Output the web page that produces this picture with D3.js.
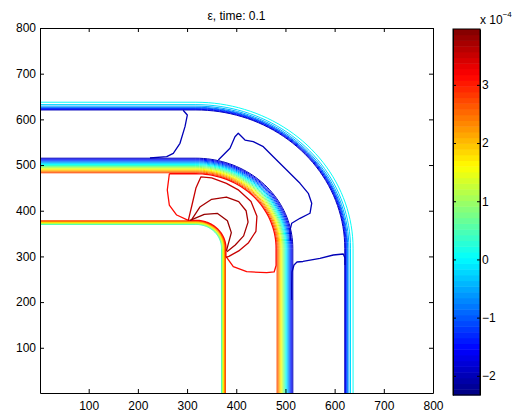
<!DOCTYPE html>
<html>
<head>
<meta charset="utf-8">
<script src="https://cdn.jsdelivr.net/npm/d3@7"></script>
<style>
  body { margin: 0; background: #fff; }
  text { font-family: "Liberation Sans", Arial, Helvetica, sans-serif; fill: #000; }
</style>
</head>
<body>
<svg id="chart" width="518" height="415"></svg>
<script>
// field range shown on the colour bar (units of 1e-4)
const cMin = -2.33, cMax = 3.96;
const xTicks = [100, 200, 300, 400, 500, 600, 700, 800];
const yTicks = [100, 200, 300, 400, 500, 600, 700, 800];
const cbarTicks = [-2, -1, 0, 1, 2, 3];

// the three rounded-L bands share one corner centre (data units)
const cornerCenter = [318, 318];

// each band line: contour level and its distance from the corner centre
const outerLevels = [-2.02, -1.72, -1.42, -1.12, -0.82, -0.52, -0.22, 0.08];
const outerRadii  = [302.6, 304, 305.5, 307, 308.5, 311, 314.3, 319.5];

const middleLevels = [-2.02, -1.72, -1.42, -1.12, -0.82, -0.52, -0.22, 0.08, 0.38,
                      0.68, 0.98, 1.28, 1.58, 1.88, 2.18, 2.48, 2.78];
const middleRadii  = [197, 195, 193, 191, 189, 187, 185, 183, 181,
                      179, 177, 175, 173, 171, 169, 167, 165];

const innerLevels = [0.38, 0.68, 0.98, 1.28, 1.58, 1.88, 2.18, 2.48, 2.78];
const innerRadii  = [52, 53, 54, 55, 56, 57, 58, 59, 60];

// traced free contours between the outer and middle bands (level -2.02)
const blueLevel = -2.02;
const blueTop = [[292, 620], [300.5, 609.5], [295.8, 584], [285.6, 547.6],
                 [272, 525.7], [258.6, 518.3], [224.6, 515.4]];
const blueMid = [[363.5, 511], [387.3, 536.6], [397.4, 562], [404.1, 569.5], [417.8, 554.8],
                 [434.6, 551.1], [455, 540.2], [475.3, 518.3], [502.5, 489.1], [529.6, 460],
                 [546.5, 438.1], [553.4, 416.3], [549.9, 394.4], [529.6, 383.4],
                 [512.7, 372.5], [509.3, 357.8], [510, 335]];
const blueLow = [[512.7, 204.6], [512.7, 237.4], [513.3, 265.9], [517.4, 281.2],
                 [523.5, 287.8], [535.7, 288.9], [570.2, 295.9], [597.3, 303.1],
                 [617.6, 305.3], [621, 296.5], [621, 281.2]];

// red loop round the inner corner (level 3.08), closed along both bands
const redLevel = 3.08, redInnerR = 61, redMiddleR = 163;
const redLeft = [[264, 481], [259.8, 445.4], [263.9, 412.5], [278.9, 390.6], [302.5, 379]];
const redBottom = [[379, 300], [394, 277.5], [421.2, 266.5], [461.9, 264.3], [477, 266], [481, 280]];

// dark red loops fanning out of the inner corner
const loopLevels = [3.5, 3.68, 3.83];
const loopA = [[302.5, 379], [310, 412.5], [318, 449.7], [328, 474], [350, 472], [380, 460],
               [405, 445], [430, 420], [442, 388], [440, 355], [425, 330], [405, 312],
               [385, 300], [379, 298]];
const loopB = [[309, 380], [326, 408], [350, 425], [380, 430], [405, 420], [420, 400],
               [424, 375], [415, 345], [398, 325], [381, 310]];
const loopC = [[306, 379], [335, 392], [362, 394], [382, 378], [390, 352], [380, 312]];

const svg = d3.select("#chart");

const x = d3.scaleLinear().domain([1, 800]).range([40, 433]);
const y = d3.scaleLinear().domain([1, 800]).range([393, 28]);
const cb = d3.scaleLinear().domain([cMin, cMax]).range([395, 29]);

// MATLAB jet, 64 entries
function jet(t) {
  const c = v => Math.max(0, Math.min(1, v));
  return d3.rgb(255 * c(Math.min(4 * t - 1.5, -4 * t + 4.5)),
                255 * c(Math.min(4 * t - 0.5, -4 * t + 3.5)),
                255 * c(Math.min(4 * t + 0.5, -4 * t + 2.5))).formatHex();
}
function levelColor(v) {
  const i = Math.max(0, Math.min(63, Math.floor((v - cMin) / (cMax - cMin) * 64)));
  return jet((i + 0.5) / 64);
}

function arcPoints(r, a0, a1) {
  const [cx, cy] = cornerCenter;
  return d3.range(41).map(i => {
    const a = (a0 + (a1 - a0) * i / 40) * Math.PI / 180;
    return [cx + r * Math.sin(a), cy + r * Math.cos(a)];
  });
}
function bandPoints(r) {
  return [[1, cornerCenter[1] + r], ...arcPoints(r, 0, 90), [cornerCenter[0] + r, 1]];
}

const line = d3.line().x(d => x(d[0])).y(d => y(d[1]));

svg.append("defs").append("clipPath").attr("id", "clip")
  .append("rect").attr("x", 40).attr("y", 28).attr("width", 393).attr("height", 365);

const plot = svg.append("g").attr("clip-path", "url(#clip)");

function drawBand(levels, radii) {
  plot.append("g").selectAll("path")
    .data(levels.map((lv, i) => ({ level: lv, pts: bandPoints(radii[i]) })))
    .join("path")
    .attr("d", d => line(d.pts))
    .attr("fill", "none")
    .attr("stroke", d => levelColor(d.level))
    .attr("stroke-width", 1);
}
drawBand(outerLevels, outerRadii);
drawBand(middleLevels, middleRadii);
drawBand(innerLevels, innerRadii);

const redLoop = [...redLeft, ...arcPoints(redInnerR, 0, 90), ...redBottom,
                 ...arcPoints(redMiddleR, 90, 0), redLeft[0]];

const traces = [
  { level: blueLevel, pts: blueTop },
  { level: blueLevel, pts: blueMid },
  { level: blueLevel, pts: blueLow },
  { level: redLevel, pts: redLoop },
  { level: loopLevels[0], pts: loopA },
  { level: loopLevels[1], pts: loopB },
  { level: loopLevels[2], pts: loopC }
];
plot.append("g").selectAll("path")
  .data(traces)
  .join("path")
  .attr("d", d => line(d.pts))
  .attr("fill", "none")
  .attr("stroke", d => levelColor(d.level))
  .attr("stroke-width", 1.3)
  .attr("stroke-linejoin", "round");

// axes, MATLAB style: ticks inside on all four sides
function styleAxis(g) {
  g.attr("font-size", 12).attr("font-family", null);
  g.selectAll("path, line").attr("stroke", "#000");
}
svg.append("g").attr("transform", "translate(0,393)")
  .call(d3.axisBottom(x).tickValues(xTicks).tickSize(-4).tickSizeOuter(0).tickPadding(8))
  .call(styleAxis);
svg.append("g").attr("transform", "translate(0,28)")
  .call(d3.axisTop(x).tickValues(xTicks).tickSize(-4).tickSizeOuter(0).tickFormat(""))
  .call(styleAxis);
svg.append("g").attr("transform", "translate(40,0)")
  .call(d3.axisLeft(y).tickValues(yTicks).tickSize(-4).tickSizeOuter(0).tickPadding(4))
  .call(styleAxis);
svg.append("g").attr("transform", "translate(433,0)")
  .call(d3.axisRight(y).tickValues(yTicks).tickSize(-4).tickSizeOuter(0).tickFormat(""))
  .call(styleAxis);

svg.append("text")
  .attr("x", 236.5).attr("y", 20)
  .attr("text-anchor", "middle")
  .attr("font-size", 12)
  .text("ε, time: 0.1");

// colour bar
const cbSteps = d3.range(64);
const cbStep = (cMax - cMin) / 64;
svg.append("g").selectAll("rect")
  .data(cbSteps)
  .join("rect")
  .attr("x", 453)
  .attr("width", 27)
  .attr("y", i => cb(cMin + (i + 1) * cbStep))
  .attr("height", i => cb(cMin + i * cbStep) - cb(cMin + (i + 1) * cbStep) + 0.5)
  .attr("fill", i => jet((i + 0.5) / 64));

svg.append("g").attr("transform", "translate(480,0)")
  .call(d3.axisRight(cb).tickValues(cbarTicks).tickSize(-3).tickSizeOuter(0).tickPadding(2)
    .tickFormat(d3.format("d")))
  .call(styleAxis);
svg.append("g").attr("transform", "translate(453,0)")
  .call(d3.axisLeft(cb).tickValues(cbarTicks).tickSize(-3).tickSizeOuter(0).tickFormat(""))
  .call(styleAxis);
svg.append("rect")
  .attr("x", 453).attr("y", 29).attr("width", 27).attr("height", 366)
  .attr("fill", "none").attr("stroke", "#000");

const exp = svg.append("text").attr("x", 480).attr("y", 24).attr("font-size", 12);
exp.append("tspan").text("x 10");
exp.append("tspan").attr("dy", -7).attr("font-size", 8).text("−4");
</script>
</body>
</html>
